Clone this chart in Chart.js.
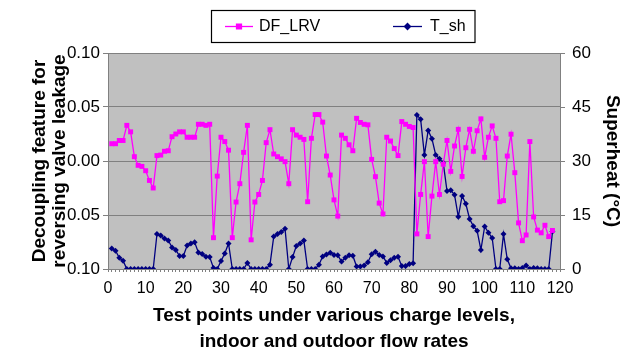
<!DOCTYPE html>
<html>
<head>
<meta charset="utf-8">
<script src="https://cdn.jsdelivr.net/npm/chart.js@4/dist/chart.umd.min.js"></script>
<style>
html,body{margin:0;padding:0;background:#fff;}
#c{display:block;}
</style>
</head>
<body>
<canvas id="c" width="622" height="351"></canvas>
<script>
const testPoints = [1,2,3,4,5,6,7,8,9,10,11,12,13,14,15,16,17,18,19,20,
21,22,23,24,25,26,27,28,29,30,31,32,33,34,35,36,37,38,39,40,
41,42,43,44,45,46,47,48,49,50,51,52,53,54,55,56,57,58,59,60,
61,62,63,64,65,66,67,68,69,70,71,72,73,74,75,76,77,78,79,80,
81,82,83,84,85,86,87,88,89,90,91,92,93,94,95,96,97,98,99,100,
101,102,103,104,105,106,107,108,109,110,111,112,113,114,115,116,117,118];

const dfLrv = [0.016,0.016,0.019,0.019,0.033,0.027,0.004,-0.004,-0.005,-0.009,
-0.018,-0.025,0.005,0.0055,0.009,0.0095,0.0225,0.025,0.027,0.027,
0.022,0.022,0.022,0.034,0.034,0.033,0.034,-0.071,-0.014,0.022,
0.018,0.010,-0.071,-0.038,-0.021,0.008,0.033,-0.073,-0.038,-0.031,
-0.018,0.017,0.029,0.0065,0.004,0.002,-0.0006,-0.021,0.029,0.024,
0.022,0.020,-0.0377,0.021,0.043,0.043,0.036,0.0046,-0.013,-0.036,
-0.051,0.024,0.021,0.015,0.0095,0.0395,0.0357,0.034,0.0335,0.0015,
-0.0145,-0.039,-0.049,0.022,0.0185,0.0115,0.005,0.0365,0.034,0.032,
0.031,-0.0675,-0.031,-0.0006,-0.070,-0.0325,-0.0006,-0.031,-0.003,0.019,
-0.0096,0.0139,0.0293,-0.0143,0.0123,0.0293,0.009,0.028,0.039,0.0034,
0.022,0.0325,0.021,-0.0377,-0.0367,0.0046,0.0248,-0.0108,-0.0573,-0.0738,
-0.0685,0.018,-0.0518,-0.064,-0.0665,-0.0595,-0.070,-0.0643];

const tSh = [5.7,5.1,3.1,2.3,0,0,0,0,0,0,
0,0,9.7,9.3,8.5,7.9,6.0,5.3,3.6,3.6,
6.5,7.1,7.4,4.6,4.2,3.4,3.3,0.3,0,2.2,
4.3,7.1,0,0,0,0,1.7,0,0,0,
0,0,1.2,9.0,9.7,10.3,11.2,0,3.3,6.4,
7.1,7.9,0,0,0,1.2,3.5,4.0,4.5,3.9,
3.8,2.1,3.1,3.8,3.7,0.7,0.7,1.0,1.9,4.1,
4.8,3.9,3.5,1.7,2.4,3.1,3.4,0.8,0.8,1.4,
1.6,42.8,41.6,31.7,38.5,36.2,31.7,30.6,29.5,21.7,
21.9,20.6,14.5,20.3,18.1,13.9,11.9,10.6,5.3,11.8,
10.1,8.6,0,0,9.7,2.7,0.2,0.2,0,0.3,
1.0,0,0.3,0.2,0,0,0,10.4];

const seriesNames = ['DF_LRV', 'T_sh'];
const xTitle = ['Test points under various charge levels,', 'indoor and outdoor flow rates'];
const yLeftTitle = ['Decoupling feature for', 'reversing valve leakage'];
const yRightTitle = 'Superheat (\u00B0C)';

const FONT = "'Liberation Sans', Arial, sans-serif";
const PINK = '#FF00FF';
const NAVY = '#000080';

const plotBg = {
  id: 'plotBg',
  beforeDraw(chart) {
    const {ctx, chartArea: a} = chart;
    ctx.save();
    ctx.fillStyle = '#C0C0C0';
    ctx.fillRect(a.left, a.top, a.right - a.left, a.bottom - a.top);
    ctx.restore();
  }
};

const boxLegend = {
  id: 'boxLegend',
  afterDraw(chart) {
    const ctx = chart.ctx;
    ctx.save();
    ctx.fillStyle = '#fff';
    ctx.fillRect(211.5, 10.5, 263.5, 32);
    ctx.strokeStyle = '#000';
    ctx.lineWidth = 1.2;
    ctx.strokeRect(211.5, 10.5, 263.5, 32);
    const items = [
      {x0: 225, x1: 253, tx: 259, color: PINK, style: 'rect', r: 3.5, label: seriesNames[0]},
      {x0: 393, x1: 422, tx: 430, color: NAVY, style: 'rectRot', r: 3, label: seriesNames[1]}
    ];
    const y = 26.5;
    items.forEach(it => {
      ctx.strokeStyle = it.color;
      ctx.lineWidth = 1.3;
      ctx.beginPath();
      ctx.moveTo(it.x0, y);
      ctx.lineTo(it.x1, y);
      ctx.stroke();
      ctx.fillStyle = it.color;
      Chart.helpers.drawPoint(ctx, {pointStyle: it.style, radius: it.r, borderWidth: 1}, (it.x0 + it.x1) / 2, y);
      ctx.fill();
      ctx.fillStyle = '#000';
      ctx.font = '16px ' + FONT;
      ctx.textBaseline = 'middle';
      ctx.textAlign = 'left';
      ctx.fillText(it.label, it.tx, y + 0.5);
    });
    ctx.restore();
  }
};

new Chart(document.getElementById('c'), {
  type: 'line',
  data: {
    datasets: [
      {
        label: seriesNames[0],
        data: testPoints.map((x, i) => ({x: x, y: dfLrv[i]})),
        yAxisID: 'y',
        borderColor: PINK,
        backgroundColor: PINK,
        borderWidth: 1.3,
        pointStyle: 'rect',
        pointRadius: 3.5,
        pointBorderWidth: 0,
        tension: 0
      },
      {
        label: seriesNames[1],
        data: testPoints.map((x, i) => ({x: x, y: tSh[i]})),
        yAxisID: 'y1',
        borderColor: NAVY,
        backgroundColor: NAVY,
        borderWidth: 1.3,
        pointStyle: 'rectRot',
        pointRadius: 3,
        pointBorderWidth: 0,
        tension: 0
      }
    ]
  },
  options: {
    responsive: false,
    animation: false,
    devicePixelRatio: 1,
    layout: {padding: {top: 53, left: 0, right: 0, bottom: 0}},
    plugins: {legend: {display: false}, tooltip: {enabled: false}},
    scales: {
      x: {
        type: 'linear',
        min: 0, max: 120,
        afterFit: s => { s.height = 82; },
        ticks: {
          stepSize: 1, autoSkip: false, maxRotation: 0, maxTicksLimit: 200,
          padding: 7,
          color: '#000',
          font: {family: FONT, size: 16},
          callback: v => (v % 10 === 0 ? String(v) : '')
        },
        grid: {drawOnChartArea: false, tickLength: 3, color: '#808080'},
        border: {display: true, color: '#808080'},
        title: {
          display: true, text: xTitle, color: '#000',
          font: {family: FONT, size: 19, weight: 'bold', lineHeight: '26px'},
          padding: {top: 0, bottom: -4}
        }
      },
      y: {
        position: 'left',
        min: -0.1, max: 0.1,
        afterFit: s => { s.width = 108; },
        ticks: {
          stepSize: 0.05, color: '#000', padding: 3,
          font: {family: FONT, size: 17},
          callback: v => Math.abs(v).toFixed(2)
        },
        grid: {color: '#808080', tickLength: 5, lineWidth: 1},
        border: {display: true, color: '#808080'},
        title: {
          display: true, text: yLeftTitle, color: '#000',
          font: {family: FONT, size: 19, weight: 'bold', lineHeight: '20px'},
          padding: {top: 30, bottom: 0}
        }
      },
      y1: {
        position: 'right',
        min: 0, max: 60,
        afterFit: s => { s.width = 62; },
        ticks: {
          stepSize: 15, color: '#000', padding: 7,
          font: {family: FONT, size: 17}
        },
        grid: {drawOnChartArea: false, tickLength: 5, color: '#808080'},
        border: {display: true, color: '#808080'},
        title: {
          display: true, text: yRightTitle, color: '#000',
          font: {family: FONT, size: 19, weight: 'bold', lineHeight: '20px'},
          padding: {top: 0, bottom: 0}
        }
      }
    }
  },
  plugins: [plotBg, boxLegend]
});
</script>
</body>
</html>
